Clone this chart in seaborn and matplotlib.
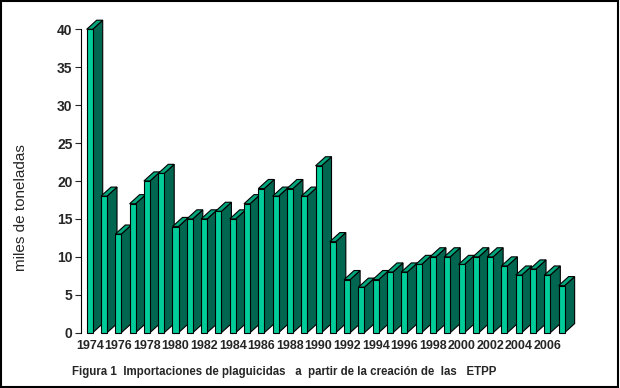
import seaborn as sns
import numpy as np
import pandas as pd
import matplotlib.pyplot as plt
from matplotlib.patches import Polygon, Rectangle

years = [str(y) for y in range(1974, 2008)]
valores = [40, 18, 13, 17, 20, 21, 14, 15, 15, 16, 15, 17, 19, 18, 19, 18, 22, 12,
           7, 6, 7, 8, 8, 9, 10, 10, 9, 10, 10, 8.8, 7.6, 8.4, 7.6, 6.2]
yticks = [0, 5, 10, 15, 20, 25, 30, 35, 40]
xlabels = years[::2]

front = '#00cc99'
side = '#006650'
top = '#00a57c'

sns.set_style("white")
plt.rcParams['font.family'] = ['Liberation Sans', 'DejaVu Sans']

df = pd.DataFrame({'anio': years, 'miles': valores})

fig = plt.figure(figsize=(6.2, 3.88), dpi=100)
ax = fig.add_axes([0.1306, 0.1425, 0.805, 0.782])
sns.barplot(data=df, x='anio', y='miles', color=front, width=0.42, saturation=1,
            edgecolor='black', linewidth=0.8, ax=ax)

# depth of the fake 3D bars (in data units)
dx, dy = 0.7, 1.2
for i, p in enumerate(ax.patches):
    x0, w, h = p.get_x(), p.get_width(), p.get_height()
    z = 2 + 2 * i
    s = Polygon([(x0 + w, 0), (x0 + w + dx, dy), (x0 + w + dx, h + dy), (x0 + w, h)],
                closed=True, facecolor=side, edgecolor='black', lw=0.8, zorder=z, clip_on=False)
    t = Polygon([(x0, h), (x0 + dx, h + dy), (x0 + w + dx, h + dy), (x0 + w, h)],
                closed=True, facecolor=top, edgecolor='black', lw=0.8, zorder=z, clip_on=False)
    ax.add_patch(s)
    ax.add_patch(t)
    p.set_zorder(z + 1)
    p.set_clip_on(False)

ax.set_xlim(-0.61, 34.29)
ax.set_ylim(0, 40)
ax.set_yticks(yticks)
ax.set_yticklabels([str(v) for v in yticks], fontsize=10, fontweight='bold')
ax.set_xticks(range(0, len(years), 2))
ax.set_xticklabels(xlabels, fontsize=9, fontweight='bold')
ax.tick_params(axis='x', length=0, pad=5)
ax.tick_params(axis='y', length=4, width=0.8, direction='out', left=True, pad=2)
ax.set_xlabel('')
ax.set_ylabel('')
for sp in ['top', 'right', 'bottom']:
    ax.spines[sp].set_visible(False)
ax.spines['left'].set_linewidth(0.8)
ax.spines['left'].set_color('black')

fig.text(0.034, 0.466, 'miles de toneladas', fontsize=11, rotation=90, ha='center', va='center')
fig.text(0.116, 0.04, 'Figura 1  Importaciones de plaguicidas   a  partir de la creación de  las   ETPP',
         fontsize=8.3, fontweight='bold', va='center')
fig.patches.append(Rectangle((0.002, 0.003), 0.995, 0.994, transform=fig.transFigure,
                             fill=False, edgecolor='black', lw=1.5))

fig.savefig('out.png', dpi=100)
